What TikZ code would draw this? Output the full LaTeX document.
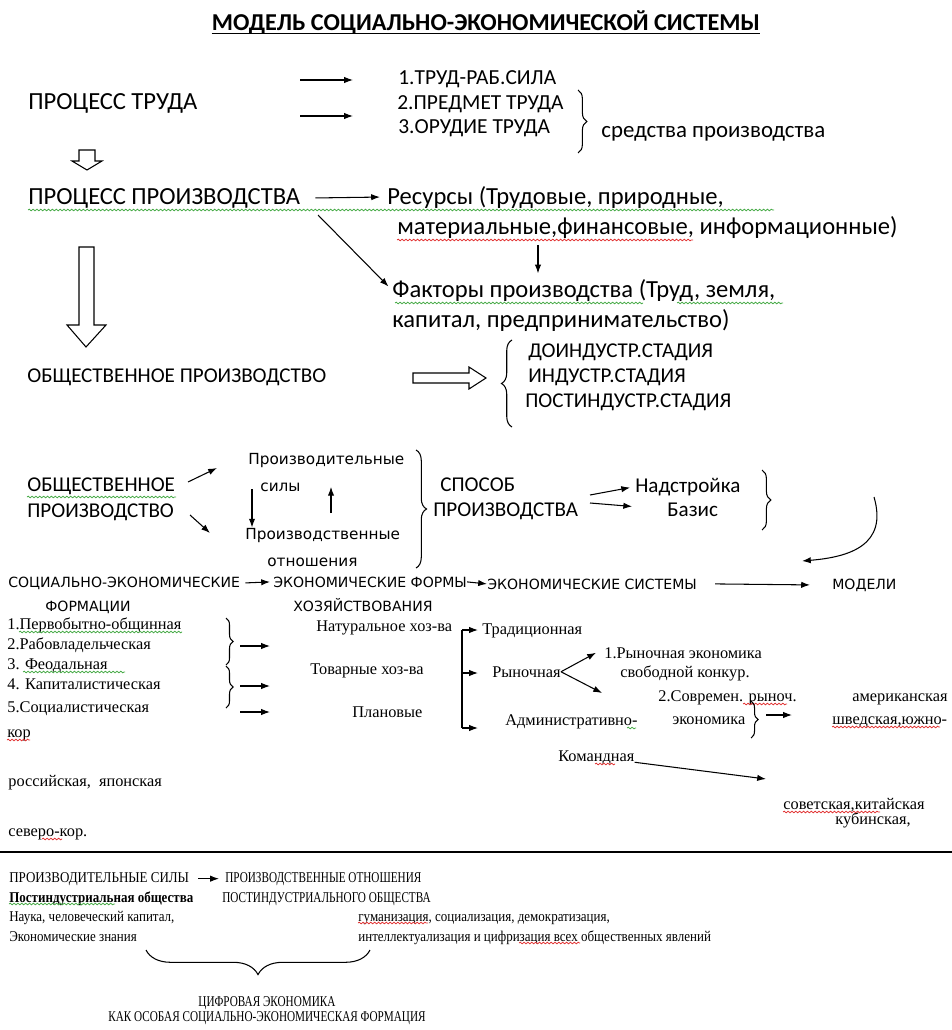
\documentclass[tikz,border=0pt]{standalone}
\usepackage{fontspec}
\setmainfont{Liberation Serif}
\newfontfamily\calibfont{Carlito}
\newfontfamily\verdfont{DejaVu Sans}
\newfontfamily\condfont[FakeStretch=0.87]{Liberation Serif}
\newfontfamily\condcapsfont[FakeStretch=0.75]{Liberation Serif}
\usetikzlibrary{arrows.meta,decorations.pathreplacing,decorations.pathmorphing}
\definecolor{spgreen}{RGB}{70,170,70}
\definecolor{spred}{RGB}{225,50,50}
\tikzset{
  lbl/.style={inner sep=0pt, anchor=mid west},
  headtxt/.style={lbl, font=\calibfont\fontsize{14}{16}\selectfont},
  itemtxt/.style={lbl, font=\calibfont\fontsize{12.2}{14}\selectfont},
  sanstxt/.style={lbl, font=\calibfont\fontsize{12}{14}\selectfont},
  widetxt/.style={lbl, font=\verdfont\fontsize{8}{10}\selectfont},
  widebig/.style={lbl, font=\verdfont\fontsize{8.7}{10}\selectfont},
  sertxt/.style={lbl, font=\rmfamily\fontsize{9.3}{11}\selectfont},
  condtxt/.style={lbl, font=\condfont\fontsize{8.5}{10}\selectfont},
  captxt/.style={lbl, font=\condcapsfont\fontsize{8.5}{10}\selectfont},
  arr/.style={-{Latex[length=5pt,width=3.6pt]}, line width=0.6pt},
  hollow/.style={draw, line width=0.6pt},
  brc/.style={decorate, decoration={brace, amplitude=#1}, line width=0.6pt},
  brc/.default=4pt,
  squig/.style={decorate, decoration={snake, amplitude=0.45pt, segment length=2.2pt}, line width=0.45pt, draw=#1},
}
\begin{document}
\begin{tikzpicture}[x=0.02cm, y=-0.02cm]
% \clip (0,0) rectangle (952,1030);
\useasboundingbox (0,0) rectangle (952,1030);

% Title
\node[lbl, anchor=mid, font=\calibfont\bfseries\fontsize{13.8}{16}\selectfont] (ttl) at (486,26) {МОДЕЛЬ СОЦИАЛЬНО-ЭКОНОМИЧЕСКОЙ СИСТЕМЫ};
\draw[line width=0.7pt] ([yshift=-2pt]ttl.base west) -- ([yshift=-2pt]ttl.base east);

% Labour process
\node[headtxt] (trud) at (28,105) {ПРОЦЕСС ТРУДА};
\node[itemtxt] (t1) at (398,80) {1.ТРУД-РАБ.СИЛА};
\node[itemtxt] (t2) at (397,105) {2.ПРЕДМЕТ ТРУДА};
\node[itemtxt] (t3) at (398,129) {3.ОРУДИЕ ТРУДА};
\coordinate (a1) at (300,80);
\coordinate (a2) at (300,116);
\draw[arr, shorten >=0.9cm] (a1) -- (t1.west |- a1);
\draw[arr, shorten >=0.88cm] (a2) -- (t2.west |- a2);
\draw[brc=5pt] (578,90) -- (578,153);
\node[itemtxt, font=\calibfont\fontsize{13}{15}\selectfont] (sredst) at (601,133) {средства производства};

% Small hollow arrow down
\draw[hollow] (79,150) -- (95,150) -- (95,161) -- (102,161) -- (87,170) -- (72,161) -- (79,161) -- cycle;

% Production process
\node[headtxt] (proiz) at (28,200) {ПРОЦЕСС ПРОИЗВОДСТВА};
\node[headtxt] (res1) at (387,200) {Ресурсы (Трудовые, природные,};
\node[headtxt] (res2) at (397,230) {материальные,финансовые, информационные)};
\node[headtxt] (fak1) at (392,293) {Факторы производства (Труд, земля,};
\node[headtxt] (fak2) at (392,323) {капитал, предпринимательство)};
\draw[arr] ([xshift=0.3cm]proiz.east) -- ([xshift=-0.14cm]res1.west);
\coordinate (dn) at (538,245);
\draw[arr, shorten >=3pt] (dn) -- (dn |- fak1.north);
\coordinate (dg) at (318,215);
\draw[arr, shorten >=0.1cm] (dg) -- (fak1.west);

% Spell-check marks
\draw[squig=spgreen] (28,210) -- (774,210);
\draw[squig=spred] (397,240) -- (693,240);
\draw[squig=spgreen] (395,303) -- (643,303);
\draw[squig=spgreen] (677,303) -- (783,303);

% Long hollow arrow down
\draw[hollow] (79,247) -- (94,247) -- (94,325) -- (106,325) -- (86,347) -- (67,325) -- (79,325) -- cycle;

% Social production and stages
\node[sanstxt] (obsh) at (27,378) {ОБЩЕСТВЕННОЕ ПРОИЗВОДСТВО};
\draw[hollow] (413,373) -- (469,373) -- (469,367) -- (486,378) -- (469,389) -- (469,383) -- (413,383) -- cycle;
\draw[brc=6pt] (512,427) -- (512,340);
\node[sanstxt] (st1) at (528,353) {ДОИНДУСТР.СТАДИЯ};
\node[sanstxt] (st2) at (528,378) {ИНДУСТР.СТАДИЯ};
\node[sanstxt] (st3) at (525,403) {ПОСТИНДУСТР.СТАДИЯ};

% Mode of production
\node[sanstxt] (ob1) at (27,487) {ОБЩЕСТВЕННОЕ};
\node[sanstxt] (ob2) at (27,513) {ПРОИЗВОДСТВО};
\draw[squig=spgreen] (27,497) -- (176,497);
\coordinate (o1) at (188,482);
\coordinate (o2) at (190,515);
\draw[arr] (o1) -- (217,468);
\draw[arr] (o2) -- (210,533);
\node[widebig] (ps1) at (248,460) {Производительные};
\node[widebig] (ps2) at (260,487) {силы};
\node[widebig] (po1) at (245,535) {Производственные};
\node[widebig] (po2) at (267,562) {отношения};
\coordinate (pd) at (252,489);
\coordinate (pu) at (331,513);
\draw[arr] (pd) -- (pd |- po1.north);
\draw[arr] (pu) -- (pu |- ps2.center);
\draw[brc=6pt] (416,450) -- (416,568);
\node[sanstxt] (sp1) at (440,487) {СПОСОБ};
\node[sanstxt] (sp2) at (433,512) {ПРОИЗВОДСТВА};
\node[sanstxt] (nd) at (635,488) {Надстройка};
\node[sanstxt] (bz) at (667,512) {Базис};
\coordinate (s1) at (590,495);
\coordinate (s2) at (590,503);
\draw[arr, shorten >=0.1cm] (s1) -- (nd.west);
\draw[arr, shorten >=0.7cm] (s2) -- (bz.west);
\draw[brc=5pt] (762,470) -- (762,530);
\coordinate (cv1) at (874,497);
\coordinate (cv2) at (802,561);
\draw[arr] (cv1) .. controls (888,545) and (850,557) .. (cv2);

% Formations, forms, systems, models
\node[widetxt] (se1) at (8,583) {СОЦИАЛЬНО-ЭКОНОМИЧЕСКИЕ};
\node[widetxt] (se2) at (45,607) {ФОРМАЦИИ};
\node[widetxt] (ef1) at (273,583) {ЭКОНОМИЧЕСКИЕ ФОРМЫ};
\node[widetxt] (ef2) at (293,607) {ХОЗЯЙСТВОВАНИЯ};
\node[widetxt] (es) at (487,585) {ЭКОНОМИЧЕСКИЕ СИСТЕМЫ};
\node[widetxt] (md) at (832,585) {МОДЕЛИ};
\draw[arr] ([xshift=0.1cm]se1.east) -- ([xshift=-0.06cm]ef1.west);
\draw[arr] (ef1.east) -- (es.west);
\draw[arr] ([xshift=0.36cm]es.east) -- ([xshift=-0.44cm]md.west);

% List of formations
\node[sertxt] (f1) at (7,625) {1.Первобытно-общинная};
\node[sertxt] (f2) at (7,645) {2.Рабовладельческая};
\node[sertxt] (f3) at (7,665) {3. Феодальная};
\node[sertxt] (f4) at (7,685) {4. Капиталистическая};
\node[sertxt] (f5) at (7,708) {5.Социалистическая};
\node[sertxt] (kor) at (7,733) {кор};
\draw[squig=spgreen] (19,632) -- (182,632);
\draw[squig=spgreen] (23,672) -- (125,672);
\draw[squig=spred] (7,740) -- (30,740);
\draw[brc=4pt] (226,618) -- (226,665);
\draw[brc=4pt] (226,666) -- (226,708);
\coordinate (fa1) at (240,646);
\coordinate (fa2) at (240,686);
\coordinate (fa3) at (240,712);
\draw[arr] (fa1) -- ++(30,0);
\draw[arr] (fa2) -- ++(30,0);
\draw[arr] (fa3) -- ++(30,0);

% Economic forms
\node[sertxt] (nat) at (316,627) {Натуральное хоз-ва};
\node[sertxt] (tov) at (310,670) {Товарные хоз-ва};
\node[sertxt] (plan) at (352,713) {Плановые};
\coordinate (b1) at (462,630);
\coordinate (b2) at (462,673);
\coordinate (b3) at (462,728);
\draw[line width=0.6pt] (b1) -- (b3);
\draw[arr] (b1) -- ++(16,0);
\draw[arr] (b2) -- ++(16,0);
\draw[arr] (b3) -- ++(16,0);

% Economic systems
\node[sertxt] (trad) at (482,630) {Традиционная};
\node[sertxt] (ryn) at (492,673) {Рыночная};
\node[sertxt] (adm) at (505,721) {Административно-};
\node[sertxt] (r1a) at (604,654) {1.Рыночная экономика};
\node[sertxt] (r1b) at (620,673) {свободной конкур.};
\node[sertxt] (r2a) at (658,697) {2.Современ. рыноч.};
\node[sertxt] (r2b) at (672,720) {экономика};
\coordinate (rt2) at (602,693);
\draw[arr] (ryn.east) -- ([xshift=-0.16cm]r1a.west);
\draw[arr] (ryn.east) -- (rt2);
\draw[squig=spred] (743,704) -- (787,704);
\draw[squig=spgreen] (627,728) -- (636,728);
\draw[brc=4pt] (751,701) -- (751,738);
\coordinate (ma) at (766,715);
\draw[arr] (ma) -- ++(26,0);
\node[sertxt] (am) at (852,697) {американская};
\node[sertxt] (sh) at (832,720) {шведская,южно-};
\draw[squig=spred] (832,727) -- (940,727);
\node[sertxt] (kom) at (558,757) {Командная};
\draw[squig=spred] (595,764) -- (615,764);
\coordinate (kt) at (766,779);
\draw[arr] ([yshift=-0.1cm]kom.east) -- (kt);
\node[sertxt] (ros) at (8,782) {российская,\ \ японская};
\node[sertxt] (sov) at (783,805) {советская,китайская};
\node[sertxt] (kub) at (835,820) {кубинская,};
\draw[squig=spred] (783,812) -- (880,812);
\node[sertxt] (sev) at (8,832) {северо-кор.};
\draw[squig=spred] (42,839) -- (62,839);

% Separator
\draw[line width=0.8pt] (0,852) -- (952,852);

% Digital economy
\node[condtxt] (pc) at (9,878) {ПРОИЗВОДИТЕЛЬНЫЕ СИЛЫ};
\node[captxt] (po) at (225,878) {ПРОИЗВОДСТВЕННЫЕ ОТНОШЕНИЯ};
\draw[arr] ([xshift=0.18cm]pc.east) -- ([xshift=-0.12cm]po.west);
\node[condtxt, font=\condfont\bfseries\fontsize{8.5}{10}\selectfont] (pi) at (9,898) {Постиндустриальная общества};
\node[captxt] (pob) at (222,898) {ПОСТИНДУСТРИАЛЬНОГО ОБЩЕСТВА};
\node[condtxt] (nk) at (9,917) {Наука, человеческий капитал,};
\node[condtxt] (gum) at (358,917) {гуманизация, социализация, демократизация,};
\node[condtxt] (ez) at (9,937) {Экономические знания};
\node[condtxt] (int) at (358,937) {интеллектуализация и цифризация всех общественных явлений};
\draw[squig=spgreen] (9,904) -- (115,904);
\draw[squig=spred] (358,923) -- (428,923);
\draw[squig=spred] (519,943) -- (580,943);
\draw[brc=14pt] (370,950) -- (146,950);
\node[captxt, anchor=mid] (cf1) at (267,1002) {ЦИФРОВАЯ ЭКОНОМИКА};
\node[captxt, anchor=mid] (cf2) at (267,1017) {КАК ОСОБАЯ СОЦИАЛЬНО-ЭКОНОМИЧЕСКАЯ ФОРМАЦИЯ};
\end{tikzpicture}
\end{document}
